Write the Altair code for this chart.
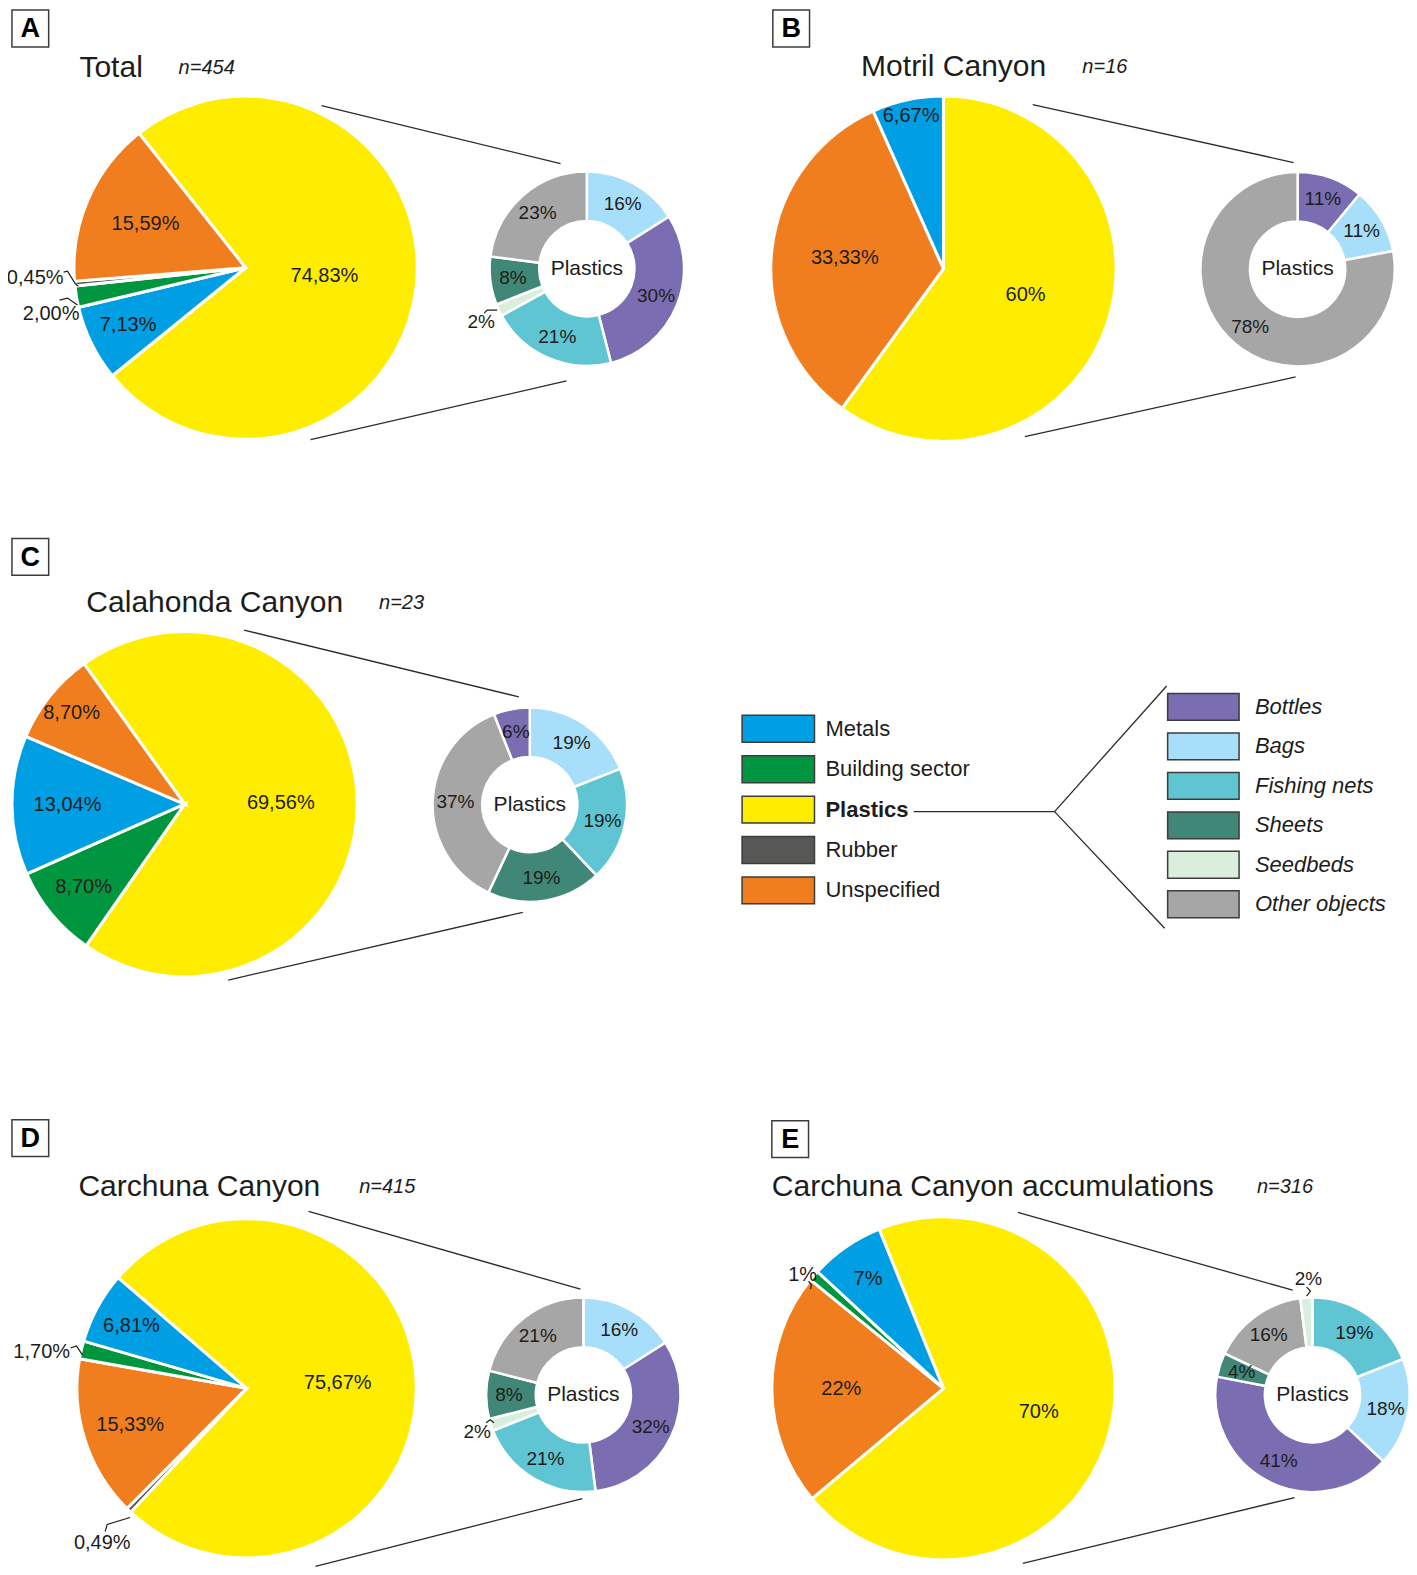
import math
import altair as alt
import pandas as pd

FONT = "Liberation Sans"
INK = "#1d1d1b"
W, H = 1401, 1559

# ---------------- data ----------------
MAIN_CATS = ["Metals", "Building sector", "Plastics", "Rubber", "Unspecified"]
MAIN_COLORS = ["#009fe3", "#00963f", "#ffed00", "#575756", "#f07d1e"]
PLASTIC_CATS = ["Bottles", "Bags", "Fishing nets", "Sheets", "Seedbeds", "Other objects"]
PLASTIC_COLORS = ["#7b6db1", "#a7def9", "#5fc5d3", "#418777", "#d9eedc", "#a6a6a6"]

PANEL_KEYS = ["A", "B", "C", "D", "E"]
PANEL_TITLES = ["Total", "Motril Canyon", "Calahonda Canyon", "Carchuna Canyon",
                "Carchuna Canyon accumulations"]
PANEL_N = ["n=454", "n=16", "n=23", "n=415", "n=316"]
DONUT_CENTER_LABEL = "Plastics"

A_CATS = ["Plastics", "Metals", "Building sector", "Rubber", "Unspecified"]
A_VALS = [74.83, 7.13, 2.00, 0.45, 15.59]
A_LABELS = ["74,83%", "7,13%", "2,00%", "0,45%", "15,59%"]
A_PL_CATS = ["Bags", "Bottles", "Fishing nets", "Seedbeds", "Sheets", "Other objects"]
A_PL_VALS = [16, 30, 21, 2, 8, 23]
A_PL_LABELS = ["16%", "30%", "21%", "2%", "8%", "23%"]

B_CATS = ["Plastics", "Unspecified", "Metals"]
B_VALS = [60, 33.33, 6.67]
B_LABELS = ["60%", "33,33%", "6,67%"]
B_PL_CATS = ["Bottles", "Bags", "Other objects"]
B_PL_VALS = [11, 11, 78]
B_PL_LABELS = ["11%", "11%", "78%"]

C_CATS = ["Plastics", "Building sector", "Metals", "Unspecified"]
C_VALS = [69.56, 8.70, 13.04, 8.70]
C_LABELS = ["69,56%", "8,70%", "13,04%", "8,70%"]
C_PL_CATS = ["Bags", "Fishing nets", "Sheets", "Other objects", "Bottles"]
C_PL_VALS = [19, 19, 19, 37, 6]
C_PL_LABELS = ["19%", "19%", "19%", "37%", "6%"]

D_CATS = ["Plastics", "Rubber", "Unspecified", "Building sector", "Metals"]
D_VALS = [75.67, 0.49, 15.33, 1.70, 6.81]
D_LABELS = ["75,67%", "0,49%", "15,33%", "1,70%", "6,81%"]
D_PL_CATS = ["Bags", "Bottles", "Fishing nets", "Seedbeds", "Sheets", "Other objects"]
D_PL_VALS = [16, 32, 21, 2, 8, 21]
D_PL_LABELS = ["16%", "32%", "21%", "2%", "8%", "21%"]

E_CATS = ["Plastics", "Unspecified", "Building sector", "Metals"]
E_VALS = [70, 22, 1, 7]
E_LABELS = ["70%", "22%", "1%", "7%"]
E_PL_CATS = ["Fishing nets", "Bags", "Bottles", "Sheets", "Other objects", "Seedbeds"]
E_PL_VALS = [19, 18, 41, 4, 16, 2]
E_PL_LABELS = ["19%", "18%", "41%", "4%", "16%", "2%"]

PIES = {
    "A": (A_CATS, A_VALS, A_LABELS, A_PL_CATS, A_PL_VALS, A_PL_LABELS),
    "B": (B_CATS, B_VALS, B_LABELS, B_PL_CATS, B_PL_VALS, B_PL_LABELS),
    "C": (C_CATS, C_VALS, C_LABELS, C_PL_CATS, C_PL_VALS, C_PL_LABELS),
    "D": (D_CATS, D_VALS, D_LABELS, D_PL_CATS, D_PL_VALS, D_PL_LABELS),
    "E": (E_CATS, E_VALS, E_LABELS, E_PL_CATS, E_PL_VALS, E_PL_LABELS),
}

# ---------------- layout (figure pixel coordinates) ----------------
PIE_GEOM = {  # cx, cy, radius, start angle (deg, clockwise from 12 o'clock)
    "A": (241.5, 262.5, 173, -38.4),
    "B": (945, 263.5, 174, 0),
    "C": (180, 800.5, 174, -35.6),
    "D": (242.5, 1386.5, 171, -49.3),
    "E": (945, 1386.5, 173, -22),
}
DONUT_GEOM = {"A": (585.5, 263.5), "B": (1302, 264), "C": (528, 801),
              "D": (582, 1393), "E": (1317, 1393)}
DONUT_R_OUT, DONUT_R_IN, DONUT_LABEL_R = 98, 48, 75
PIE_LABEL_R = {
    "A": {"Plastics": 80, "Metals": 132, "Unspecified": 110},
    "B": {"Plastics": 87, "Metals": 157, "Unspecified": 100},
    "C": {"Plastics": 97, "Building sector": 132, "Metals": 118, "Unspecified": 146},
    "D": {"Plastics": 92, "Metals": 132, "Unspecified": 123},
    "E": {"Plastics": 99, "Metals": 134, "Unspecified": 103},
}
# outside labels: (panel, ring, category) -> text x, text y, align, leader polyline
OUTSIDE = {
    ("A", "pie", "Rubber"): (58, 273, "right", [(58, 267), (62, 266), (70, 279), (73, 281)]),
    ("A", "pie", "Building sector"): (45.5, 309, "center", [(54, 295), (62, 293), (72, 300)]),
    ("A", "donut", "Seedbeds"): (479, 317, "center", [(482, 308), (485, 305), (495, 305)]),
    ("D", "pie", "Building sector"): (36, 1350, "center", [(65, 1346), (71, 1344), (77, 1353)]),
    ("D", "pie", "Rubber"): (97, 1542, "center", [(100, 1530), (102, 1523), (125, 1516)]),
    ("D", "donut", "Seedbeds"): (475, 1430, "center", [(484, 1421), (488, 1418), (492, 1421)]),
    ("E", "pie", "Building sector"): (803, 1273, "center", [(809, 1279), (812, 1283), (811, 1287)]),
    ("E", "donut", "Seedbeds"): (1313, 1277, "center", [(1311, 1285), (1315, 1289), (1311, 1294)]),
}
LETTER_BOX = {"A": (6, 4), "B": (773, 4), "C": (6, 534), "D": (6, 1117), "E": (772, 1118)}
BOX_SIZE = 37
TITLE_POS = {"A": (74, 62, 174), "B": (862, 61, 1085), "C": (81, 599, 376),
             "D": (73, 1185, 356), "E": (772, 1185, 1261)}
CONNECTORS = {
    "A": [(318, 100, 559, 158), (307, 435, 565, 376)],
    "B": [(1035, 99, 1298, 157), (1027, 432, 1300, 372)],
    "C": [(240, 626, 517, 693), (224, 977, 521, 909)],
    "D": [(305, 1209, 579, 1287), (312, 1565, 581, 1497)],
    "E": [(1020, 1210, 1297, 1288), (1025, 1562, 1299, 1496)],
}
LEG_MAIN = dict(x0=742, x1=815, y0=725, step=40.5, tx=826)
LEG_PL = dict(x0=1171, x1=1243, y0=703, step=39.6, tx=1259)
LEG_H = 27
BRACKET = [(915, 808, 1057, 808), (1057, 808, 1170, 682), (1057, 808, 1168, 925)]

# figure coords -> chart coords (figure content spans slightly wider than the plot area)
X0, Y0, SX, SY = 2, 2, 0.992, 0.997


def PX(v):
    return (v - X0) * SX


def PY(v):
    return (v - Y0) * SY


def PR(r):
    return r * SX


color_scale = alt.Scale(domain=MAIN_CATS + PLASTIC_CATS, range=MAIN_COLORS + PLASTIC_COLORS)


def ring(key, ring_name, cats, vals, labels, cx, cy, r_out, r_in, start_deg,
         label_r, default_lr, font_size, stroke_w):
    outside = {c for (k, rn, c) in OUTSIDE if k == key and rn == ring_name}
    lrs = [label_r.get(c, default_lr) for c in cats]
    radii = sorted(set(lrs))
    df = pd.DataFrame({
        "cat": cats,
        "value": vals,
        "label": ["" if c in outside else l for c, l in zip(cats, labels)],
        "ord": list(range(len(cats))),
        "grp": [radii.index(v) for v in lrs],
    })
    a = math.radians(start_deg)
    base = alt.Chart(df).encode(
        theta=alt.Theta("value:Q", stack=True,
                        scale=alt.Scale(domain=[0, float(sum(vals))], range=[a, a + 2 * math.pi])),
        order=alt.Order("ord:Q"),
        detail=alt.Detail("cat:N"),
    )
    arcs = base.mark_arc(outerRadius=PR(r_out), innerRadius=PR(r_in), stroke="white",
                         strokeWidth=stroke_w).encode(
        x=alt.value(PX(cx)), y=alt.value(PY(cy)),
        color=alt.Color("cat:N", scale=color_scale, legend=None),
    )
    texts = []
    for gi, rv in enumerate(radii):
        texts.append(
            base.transform_calculate(t=f"datum.grp == {gi} ? datum.label : ''")
            .mark_text(font=FONT, fontSize=font_size, color=INK, baseline="middle",
                       align="center", radius=PR(rv))
            .encode(x=alt.value(PX(cx)), y=alt.value(PY(cy)), text="t:N")
        )
    return alt.layer(arcs, *texts)


layers = []
for key in PANEL_KEYS:
    cats, vals, labels, pcats, pvals, plabels = PIES[key]
    cx, cy, r, start = PIE_GEOM[key]
    layers.append(ring(key, "pie", cats, vals, labels, cx, cy, r, 0, start,
                       PIE_LABEL_R[key], round(r * 0.6), 20, 3))
    dx, dy = DONUT_GEOM[key]
    layers.append(ring(key, "donut", pcats, pvals, plabels, dx, dy, DONUT_R_OUT, DONUT_R_IN, 0,
                       {}, DONUT_LABEL_R, 19, 2.5))


def XQ(f):
    return alt.X(f, type="quantitative", scale=None, axis=None)


def YQ(f):
    return alt.Y(f, type="quantitative", scale=None, axis=None)


# donut centre labels
center_df = pd.DataFrame({
    "x": [PX(DONUT_GEOM[k][0]) for k in PANEL_KEYS],
    "y": [PY(DONUT_GEOM[k][1]) for k in PANEL_KEYS],
    "t": [DONUT_CENTER_LABEL] * len(PANEL_KEYS),
})
layers.append(alt.Chart(center_df).mark_text(font=FONT, fontSize=21, color=INK,
                                             baseline="middle").encode(
    x=XQ("x"), y=YQ("y"), text="t:N"))

# outside labels + leader lines
out_rows, lead_rows = [], []
for i, ((key, rn, cat), (tx, ty, al, pts)) in enumerate(OUTSIDE.items()):
    cats, vals, labels, pcats, pvals, plabels = PIES[key]
    lab = labels[cats.index(cat)] if rn == "pie" else plabels[pcats.index(cat)]
    out_rows.append({"x": PX(tx), "y": PY(ty), "t": lab, "al": al, "fs": 20 if rn == "pie" else 19})
    for k, (px_, py_) in enumerate(pts):
        lead_rows.append({"id": i, "k": k, "x": PX(px_), "y": PY(py_)})
out_df = pd.DataFrame(out_rows)
for al in ["left", "center", "right"]:
    for fs in [19, 20]:
        sub = out_df[(out_df.al == al) & (out_df.fs == fs)]
        if len(sub):
            layers.append(alt.Chart(sub).mark_text(font=FONT, fontSize=fs, color=INK, align=al,
                                                   baseline="middle").encode(
                x=XQ("x"), y=YQ("y"), text="t:N"))
layers.append(alt.Chart(pd.DataFrame(lead_rows)).mark_line(color=INK, strokeWidth=1.2).encode(
    x=XQ("x"), y=YQ("y"), detail="id:N", order="k:Q"))

# connectors and bracket
seg = [s for k in PANEL_KEYS for s in CONNECTORS[k]] + BRACKET
seg_df = pd.DataFrame({"x": [PX(s[0]) for s in seg], "y": [PY(s[1]) for s in seg],
                       "x2": [PX(s[2]) for s in seg], "y2": [PY(s[3]) for s in seg]})
layers.append(alt.Chart(seg_df).mark_rule(color="#2b2b2b", strokeWidth=1.3).encode(
    x=XQ("x"), y=YQ("y"), x2="x2:Q", y2="y2:Q"))

# panel letter boxes, titles
box_df = pd.DataFrame({
    "x": [PX(LETTER_BOX[k][0]) for k in PANEL_KEYS],
    "y": [PY(LETTER_BOX[k][1]) for k in PANEL_KEYS],
    "x2": [PX(LETTER_BOX[k][0] + BOX_SIZE) for k in PANEL_KEYS],
    "y2": [PY(LETTER_BOX[k][1] + BOX_SIZE) for k in PANEL_KEYS],
    "cx": [PX(LETTER_BOX[k][0] + BOX_SIZE / 2) for k in PANEL_KEYS],
    "cy": [PY(LETTER_BOX[k][1] + BOX_SIZE / 2 + 1) for k in PANEL_KEYS],
    "letter": PANEL_KEYS,
    "title": PANEL_TITLES,
    "n": PANEL_N,
    "tx": [PX(TITLE_POS[k][0]) for k in PANEL_KEYS],
    "ty": [PY(TITLE_POS[k][1]) for k in PANEL_KEYS],
    "nx": [PX(TITLE_POS[k][2]) for k in PANEL_KEYS],
})
layers.append(alt.Chart(box_df).mark_rect(fill="white", stroke="#3c3c3c", strokeWidth=1.5).encode(
    x=XQ("x"), y=YQ("y"), x2="x2:Q", y2="y2:Q"))
layers.append(alt.Chart(box_df).mark_text(font=FONT, fontSize=27, fontWeight="bold", color="black",
                                          baseline="middle").encode(
    x=XQ("cx"), y=YQ("cy"), text="letter:N"))
layers.append(alt.Chart(box_df).mark_text(font=FONT, fontSize=30, color=INK, align="left",
                                          baseline="middle").encode(
    x=XQ("tx"), y=YQ("ty"), text="title:N"))
layers.append(alt.Chart(box_df).mark_text(font=FONT, fontSize=20, fontStyle="italic", color=INK,
                                          align="left", baseline="middle").encode(
    x=XQ("nx"), y=YQ("ty"), text="n:N"))


# legend
def legend_df(cats, g):
    return pd.DataFrame({
        "cat": cats,
        "x": [PX(g["x0"])] * len(cats),
        "x2": [PX(g["x1"])] * len(cats),
        "y": [PY(g["y0"] + i * g["step"] - LEG_H / 2) for i in range(len(cats))],
        "y2": [PY(g["y0"] + i * g["step"] + LEG_H / 2) for i in range(len(cats))],
        "ty": [PY(g["y0"] + i * g["step"]) for i in range(len(cats))],
        "tx": [PX(g["tx"])] * len(cats),
    })


lm = legend_df(MAIN_CATS, LEG_MAIN)
lp = legend_df(PLASTIC_CATS, LEG_PL)
for d in (lm, lp):
    layers.append(alt.Chart(d).mark_rect(stroke="#3c3c3c", strokeWidth=1.5).encode(
        x=XQ("x"), y=YQ("y"), x2="x2:Q", y2="y2:Q",
        color=alt.Color("cat:N", scale=color_scale, legend=None)))
layers.append(alt.Chart(lm[lm.cat != "Plastics"]).mark_text(
    font=FONT, fontSize=22, color=INK, align="left", baseline="middle").encode(
    x=XQ("tx"), y=YQ("ty"), text="cat:N"))
layers.append(alt.Chart(lm[lm.cat == "Plastics"]).mark_text(
    font=FONT, fontSize=22, fontWeight="bold", color=INK, align="left", baseline="middle").encode(
    x=XQ("tx"), y=YQ("ty"), text="cat:N"))
layers.append(alt.Chart(lp).mark_text(
    font=FONT, fontSize=22, fontStyle="italic", color=INK, align="left", baseline="middle").encode(
    x=XQ("tx"), y=YQ("ty"), text="cat:N"))

chart = alt.layer(*layers).resolve_scale(theta="independent").properties(
    width=W, height=H, padding=0, autosize=alt.AutoSizeParams(type="none"),
    background="white",
).configure_view(stroke=None)

chart.save("out.html", embed_options={"renderer": "svg", "actions": False})
